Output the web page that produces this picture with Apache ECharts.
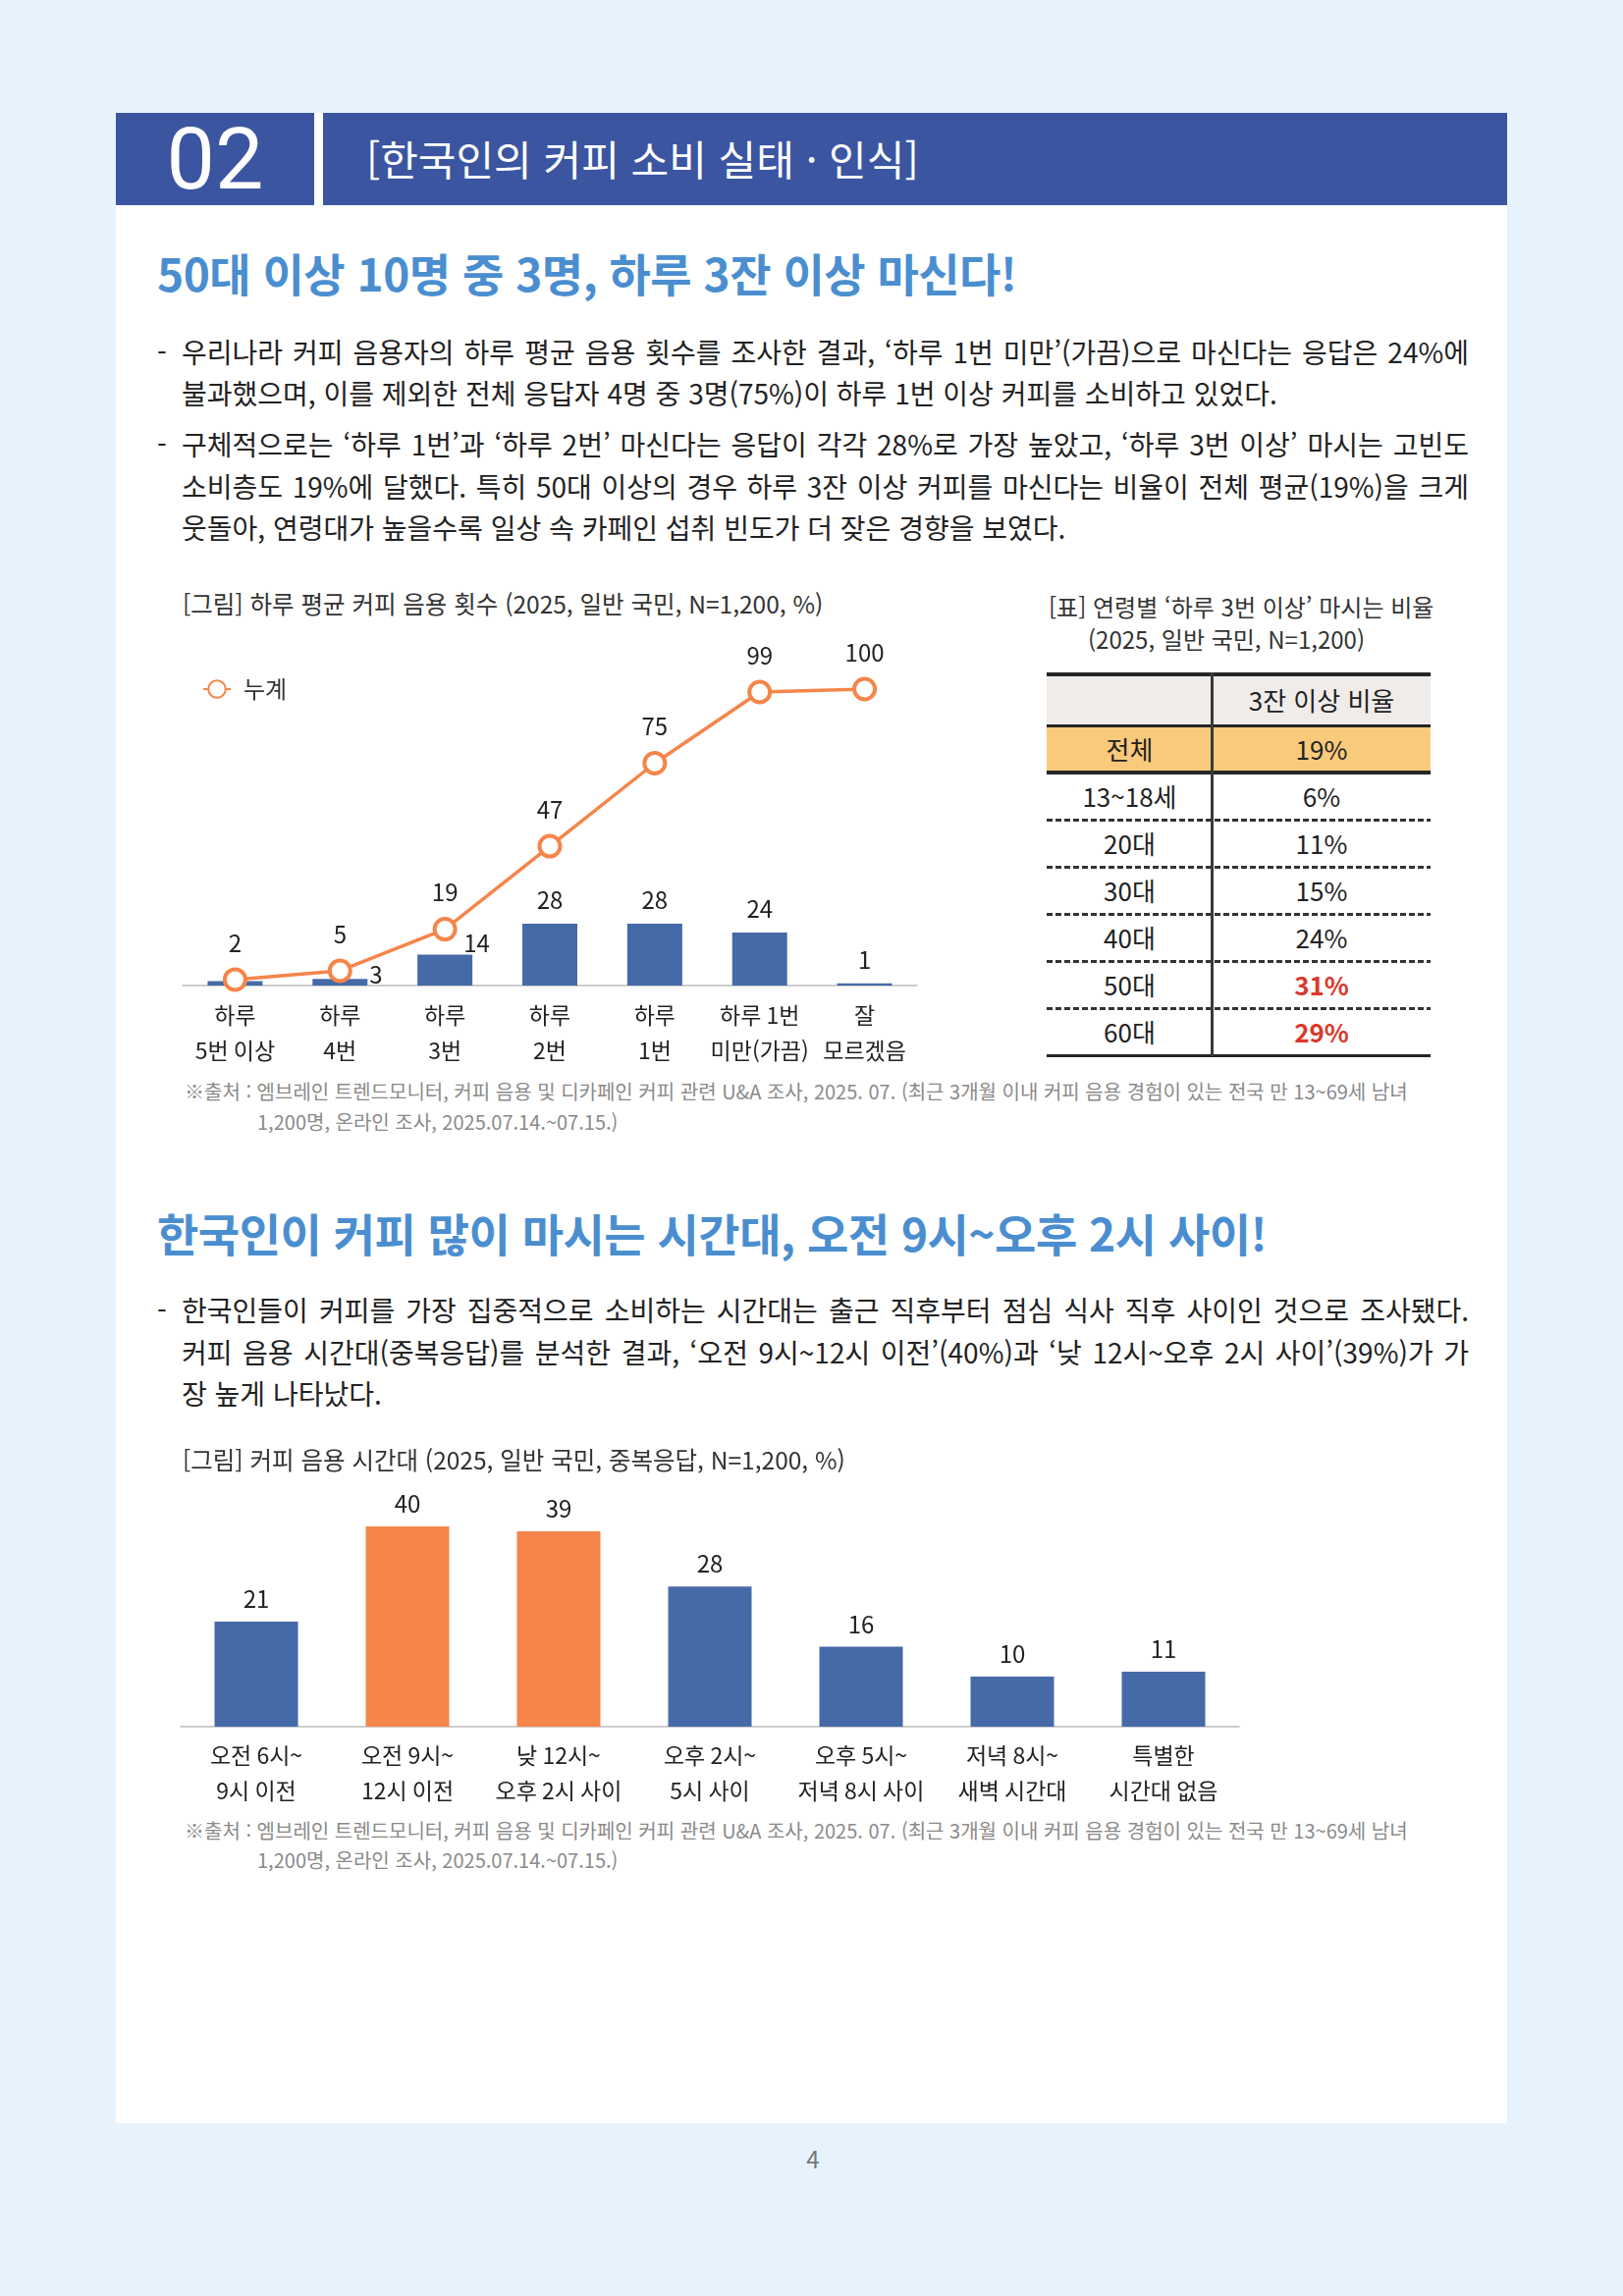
<!DOCTYPE html>
<html lang="ko">
<head>
<meta charset="utf-8">
<title>한국인의 커피 소비 실태 · 인식</title>
<script src="https://cdn.jsdelivr.net/npm/echarts@6/dist/echarts.min.js"></script>
<style>
    html, body { margin: 0; padding: 0; }
    body {
        width: 1653px; height: 2339px; position: relative; overflow: hidden;
        background: #e7f3fc; color: #222;
        font-family: "Noto Sans CJK KR", "Noto Sans", sans-serif;
    }
    .abs { position: absolute; white-space: nowrap; }
    .box { position: absolute; }
    .jl { white-space: normal; width: 1311px; text-align: justify; text-align-last: justify; }
    .chart { position: absolute; }
</style>
</head>
<body>
<div class="box" style="left:118px;top:115px;width:1417px;height:2048px;background:#fff;"></div>
<div class="box" style="left:118px;top:115px;width:202px;height:94px;background:#3b55a1;"></div>
<div class="box" style="left:329px;top:115px;width:1206px;height:94px;background:#3b55a1;"></div>
<div id="chartFreq" class="chart" style="left:170px;top:640px;width:790px;height:450px;"></div>
<div id="chartTime" class="chart" style="left:170px;top:1500px;width:1120px;height:350px;"></div>
<div id="texts"></div>

<script>
// 하루 평균 커피 음용 횟수 (%)
var freqCategories = ['하루\n5번 이상', '하루\n4번', '하루\n3번', '하루\n2번', '하루\n1번', '하루 1번\n미만(가끔)', '잘\n모르겠음'];
var freqValues = [2, 3, 14, 28, 28, 24, 1];
var freqCumulative = [2, 5, 19, 47, 75, 99, 100];

// 커피 음용 시간대 (중복응답, %)
var timeCategories = ['오전 6시~\n9시 이전', '오전 9시~\n12시 이전', '낮 12시~\n오후 2시 사이', '오후 2시~\n5시 사이', '오후 5시~\n저녁 8시 사이', '저녁 8시~\n새벽 시간대', '특별한\n시간대 없음'];
var timeValues = [21, 40, 39, 28, 16, 10, 11];

// 연령별 '하루 3번 이상' 마시는 비율 (%)
var ageGroups = ['전체', '13~18세', '20대', '30대', '40대', '50대', '60대'];
var ageRates = [19, 6, 11, 15, 24, 31, 29];

var FONT = '"Noto Sans CJK KR", "Noto Sans", sans-serif';
var BLUE = '#466aa8', ORANGE = '#f5854a';
var BODY_SIZE = 28;

var holder = document.getElementById('texts');

/**
 * 절대 위치 텍스트 (cy = 글자 세로 중심)
 */
function addText(text, x, cy, size, css) {
    var lh = Math.round(size * 1.3);
    var el = document.createElement('div');
    el.className = 'abs';
    el.textContent = text;
    el.style.left = x + 'px';
    el.style.top = (cy - lh / 2) + 'px';
    el.style.fontSize = size + 'px';
    el.style.lineHeight = lh + 'px';
    if (css) {
        for (var k in css) el.style[k] = css[k];
    }
    holder.appendChild(el);
    return el;
}

function addBox(x, y, w, h, bg) {
    var el = document.createElement('div');
    el.className = 'box';
    el.style.left = x + 'px';
    el.style.top = y + 'px';
    el.style.width = w + 'px';
    el.style.height = h + 'px';
    el.style.background = bg;
    holder.appendChild(el);
    return el;
}

function addParagraph(lines, firstCy, gap) {
    addText('-', 160, firstCy, BODY_SIZE);
    lines.forEach(function (line, i) {
        var el = addText(line[0], 185, firstCy + i * gap, BODY_SIZE);
        if (line[1]) el.className += ' jl';
    });
}

// 헤더
addText('02', 118, 162, 88, {fontFamily: 'Roboto', color: '#fff', width: '202px', textAlign: 'center'});
addText('[한국인의 커피 소비 실태 · 인식]', 373, 160, 42, {color: '#fff'});

// 본문 1
addText('50대 이상 10명 중 3명, 하루 3잔 이상 마신다!', 160, 277, 46, {color: '#4a8ed0', fontWeight: 'bold', letterSpacing: '-0.5px'});
addParagraph([
    ['우리나라 커피 음용자의 하루 평균 음용 횟수를 조사한 결과, ‘하루 1번 미만’(가끔)으로 마신다는 응답은 24%에', true],
    ['불과했으며, 이를 제외한 전체 응답자 4명 중 3명(75%)이 하루 1번 이상 커피를 소비하고 있었다.', false]
], 358, 42);
addParagraph([
    ['구체적으로는 ‘하루 1번’과 ‘하루 2번’ 마신다는 응답이 각각 28%로 가장 높았고, ‘하루 3번 이상’ 마시는 고빈도', true],
    ['소비층도 19%에 달했다. 특히 50대 이상의 경우 하루 3잔 이상 커피를 마신다는 비율이 전체 평균(19%)을 크게', true],
    ['웃돌아, 연령대가 높을수록 일상 속 카페인 섭취 빈도가 더 잦은 경향을 보였다.', false]
], 452, 42.5);

addText('[그림] 하루 평균 커피 음용 횟수 (2025, 일반 국민, N=1,200, %)', 186, 615, 24.5, {color: '#333'});
addText('[표] 연령별 ‘하루 3번 이상’ 마시는 비율', 1068, 617, 24, {color: '#333'});
addText('(2025, 일반 국민, N=1,200)', 1108, 650, 24, {color: '#333'});

// 표
(function buildTable() {
    var L = 1066, R = 1457, DIV = 1235, TOP = 687, HEAD = 52, ROW = 48;
    var total = ageRates[0];
    addBox(L, TOP, R - L, HEAD, '#efecea');
    addBox(L, TOP + HEAD, R - L, ROW, '#f9ca7b');
    addText('3잔 이상 비율', DIV, TOP + HEAD / 2, 26, {width: (R - DIV) + 'px', textAlign: 'center'});
    ageGroups.forEach(function (name, i) {
        var cy = TOP + HEAD + ROW * i + ROW / 2;
        var hot = ageRates[i] - total >= 10;
        addText(name, L, cy, 26, {width: (DIV - L) + 'px', textAlign: 'center'});
        addText(ageRates[i] + '%', DIV, cy, 26, {
            width: (R - DIV) + 'px', textAlign: 'center',
            color: hot ? '#d9392b' : '#222', fontWeight: hot ? 'bold' : 'normal'
        });
        if (i >= 2) {
            var d = addBox(L, TOP + HEAD + ROW * i - 1, R - L, 3, 'transparent');
            d.style.backgroundImage = 'repeating-linear-gradient(90deg, #333 0 6px, transparent 6px 9px)';
        }
    });
    var bottom = TOP + HEAD + ROW * ageGroups.length;
    addBox(L, TOP - 2, R - L, 4, '#262626');
    addBox(L, TOP + HEAD - 1, R - L, 3, '#262626');
    addBox(L, TOP + HEAD + ROW - 2, R - L, 4, '#262626');
    addBox(L, bottom - 1, R - L, 3, '#262626');
    addBox(DIV - 2, TOP - 2, 3, bottom - TOP + 3, '#3a3a3a');
})();

var noteLine1 = '※출처 : 엠브레인 트렌드모니터, 커피 음용 및 디카페인 커피 관련 U&A 조사, 2025. 07. (최근 3개월 이내 커피 음용 경험이 있는 전국 만 13~69세 남녀';
var noteLine2 = '1,200명, 온라인 조사, 2025.07.14.~07.15.)';
addText(noteLine1, 188, 1112, 20, {color: '#8a8a8a'});
addText(noteLine2, 262, 1143, 20, {color: '#8a8a8a'});

// 본문 2
addText('한국인이 커피 많이 마시는 시간대, 오전 9시~오후 2시 사이!', 160, 1255, 46, {color: '#4a8ed0', fontWeight: 'bold', letterSpacing: '-0.5px'});
addParagraph([
    ['한국인들이 커피를 가장 집중적으로 소비하는 시간대는 출근 직후부터 점심 식사 직후 사이인 것으로 조사됐다.', true],
    ['커피 음용 시간대(중복응답)를 분석한 결과, ‘오전 9시~12시 이전’(40%)과 ‘낮 12시~오후 2시 사이’(39%)가 가', true],
    ['장 높게 나타났다.', false]
], 1334, 42.5);
addText('[그림] 커피 음용 시간대 (2025, 일반 국민, 중복응답, N=1,200, %)', 186, 1487, 24.5, {color: '#333'});
addText(noteLine1, 188, 1865, 20, {color: '#8a8a8a'});
addText(noteLine2, 262, 1895, 20, {color: '#8a8a8a'});

addText('4', 800, 2198, 24, {color: '#777', width: '56px', textAlign: 'center'});

/**
 * 하루 평균 음용 횟수: 막대 + 누계 꺾은선
 */
function drawFreqChart() {
    var chart = echarts.init(document.getElementById('chartFreq'));
    var barData = freqValues.map(function (v, i) {
        var item = {value: v};
        if (i === 0) item.label = {show: false};
        if (i === 1) item.label = {position: [58, -4], align: 'left', verticalAlign: 'middle'};
        if (i === 2) item.label = {position: [47, -12], align: 'left', verticalAlign: 'middle'};
        return item;
    });
    chart.setOption({
        animation: false,
        textStyle: {fontFamily: FONT},
        legend: {
            data: ['누계'], left: 31, top: 45, itemWidth: 28, itemHeight: 22,
            textStyle: {fontSize: 24, color: '#333', padding: [0, 0, 0, 8]}
        },
        grid: {left: 16, right: 26, top: 62, bottom: 86},
        xAxis: {
            type: 'category', data: freqCategories,
            axisLine: {lineStyle: {color: '#bdbdbd', width: 1.5}},
            axisTick: {show: false},
            axisLabel: {interval: 0, fontSize: 23, lineHeight: 36, margin: 12, color: '#222'}
        },
        yAxis: [
            {type: 'value', min: 0, max: 134, show: false},
            {type: 'value', min: 0, max: 100, show: false}
        ],
        series: [{
            name: '횟수', type: 'bar', yAxisIndex: 0, data: barData, barWidth: 56,
            itemStyle: {color: BLUE},
            label: {show: true, position: 'top', distance: 12, fontSize: 24, color: '#222'}
        }, {
            name: '누계', type: 'line', yAxisIndex: 1, data: freqCumulative,
            symbol: 'circle', symbolSize: 21,
            lineStyle: {color: ORANGE, width: 3.5},
            itemStyle: {color: '#fff', borderColor: ORANGE, borderWidth: 4},
            label: {show: true, position: 'top', distance: 13, fontSize: 24, color: '#222'}
        }]
    });
}

/**
 * 커피 음용 시간대: 상위 2개 시간대 강조
 */
function drawTimeChart() {
    var chart = echarts.init(document.getElementById('chartTime'));
    var sorted = timeValues.slice().sort(function (a, b) { return b - a; });
    var data = timeValues.map(function (v) {
        return {value: v, itemStyle: {color: v >= sorted[1] ? ORANGE : BLUE}};
    });
    chart.setOption({
        animation: false,
        textStyle: {fontFamily: FONT},
        grid: {left: 14, right: 28, top: 55, bottom: 91},
        xAxis: {
            type: 'category', data: timeCategories,
            axisLine: {lineStyle: {color: '#bdbdbd', width: 1.5}},
            axisTick: {show: false},
            axisLabel: {interval: 0, fontSize: 23, lineHeight: 36, margin: 11, color: '#222'}
        },
        yAxis: {type: 'value', min: 0, max: 40, show: false},
        series: [{
            type: 'bar', data: data, barWidth: 85,
            label: {show: true, position: 'top', distance: 11, fontSize: 24, color: '#222'}
        }]
    });
}

drawFreqChart();
drawTimeChart();
</script>
</body>
</html>
